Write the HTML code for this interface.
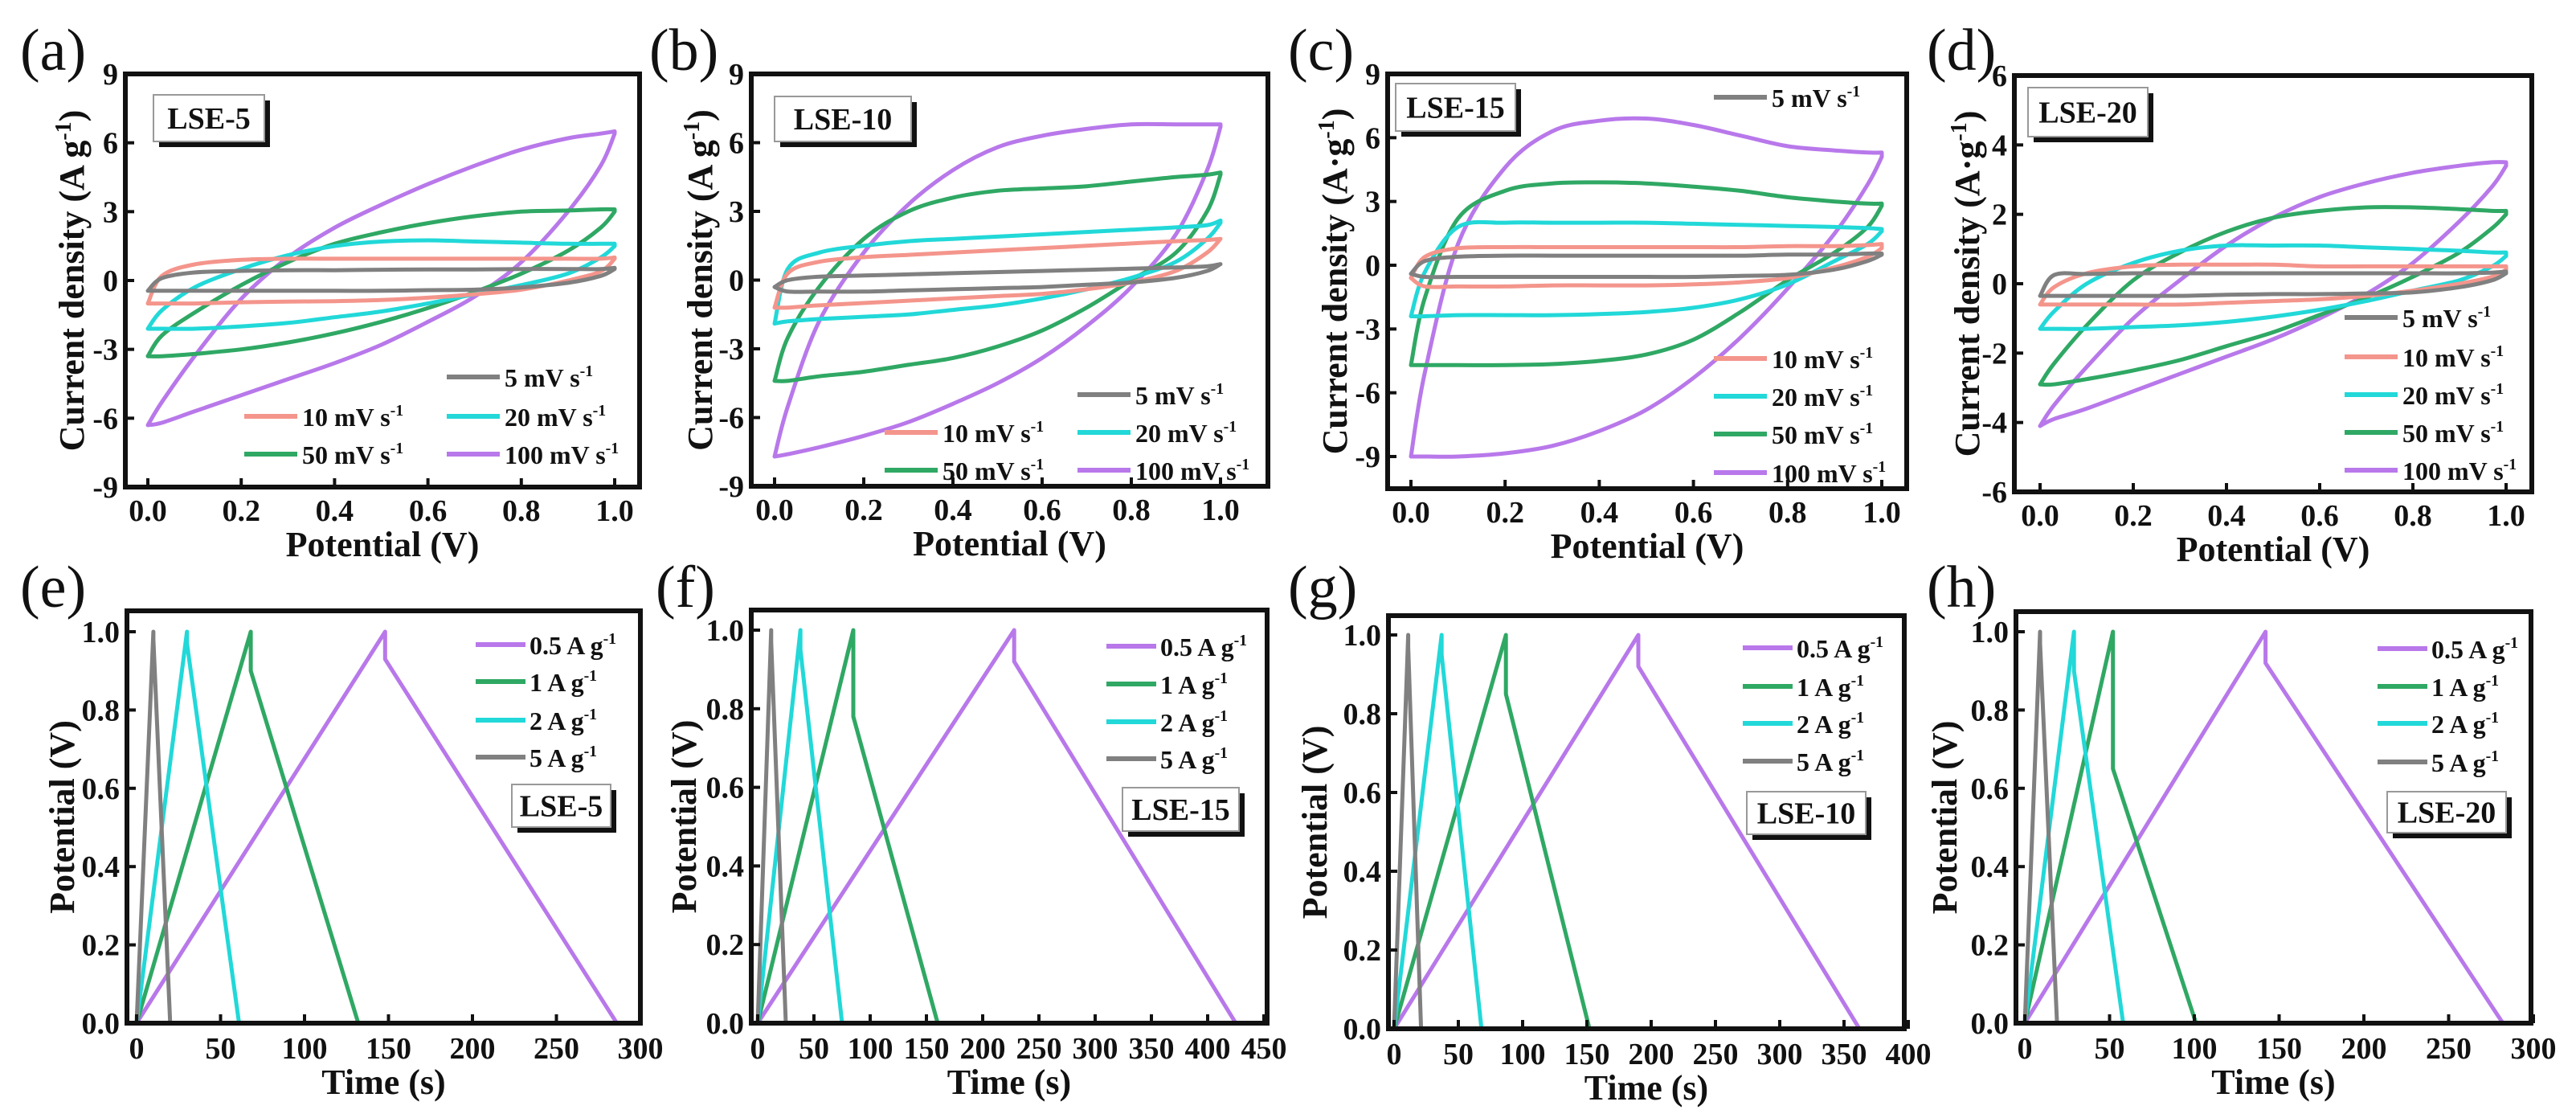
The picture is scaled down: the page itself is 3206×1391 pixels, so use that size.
<!DOCTYPE html>
<html><head><meta charset="utf-8"><style>
html,body{margin:0;padding:0;background:#fff}
svg{display:block;font-family:"Liberation Serif",serif}
</style></head><body>
<svg id="fig" width="3206" height="1391" viewBox="0 0 3206 1391" xmlns="http://www.w3.org/2000/svg">
<rect x="0" y="0" width="3206" height="1391" fill="#fff"/>
<g id="layer"></g>
</svg>
<script>
// ---------- DATA ----------
const potentials=[0,0.03,0.1,0.2,0.3,0.4,0.5,0.6,0.7,0.8,0.9,0.97,1.0];
const scanRates=['5','10','20','50','100'];
const currents=['0.5','1','2','5'];
const cvTicks9=[-9,-6,-3,0,3,6,9];
const cvTicks6=[-6,-4,-2,0,2,4,6];
const potTicks=[0,0.2,0.4,0.6,0.8,1.0];
const vTicks=[0,0.2,0.4,0.6,0.8,1.0];
const timeTicks300=[0,50,100,150,200,250,300];
const timeTicks450=[0,50,100,150,200,250,300,350,400,450];
const timeTicks400=[0,50,100,150,200,250,300,350,400];

const cvA_fwd=[
[-0.45,0.1,0.35,0.42,0.45,0.45,0.47,0.48,0.48,0.5,0.5,0.5,0.55],
[-1.0,0.2,0.7,0.9,0.95,0.95,0.95,0.95,0.95,0.95,0.95,0.95,1.0],
[-2.1,-1.3,-0.3,0.5,1.1,1.5,1.7,1.75,1.7,1.65,1.6,1.6,1.6],
[-3.3,-2.4,-1.4,-0.2,0.8,1.6,2.1,2.5,2.8,3.0,3.05,3.1,3.1],
[-6.3,-5.3,-3.3,-0.8,1.0,2.3,3.3,4.2,5.0,5.7,6.2,6.4,6.5]];
const cvA_rev=[
[-0.45,-0.45,-0.45,-0.45,-0.45,-0.45,-0.45,-0.42,-0.4,-0.3,-0.1,0.2,0.5],
[-1.0,-1.0,-1.0,-0.95,-0.92,-0.9,-0.85,-0.75,-0.6,-0.4,0,0.4,0.95],
[-2.1,-2.1,-2.1,-2.0,-1.85,-1.6,-1.35,-1.0,-0.6,-0.2,0.3,1.0,1.5],
[-3.3,-3.3,-3.2,-3.0,-2.7,-2.3,-1.8,-1.2,-0.5,0.3,1.3,2.3,3.0],
[-6.3,-6.2,-5.7,-5.0,-4.3,-3.6,-2.8,-1.8,-0.7,0.8,3.0,5.0,6.4]];

const cvB_fwd=[
[-0.3,0.0,0.15,0.2,0.25,0.3,0.35,0.4,0.45,0.5,0.55,0.6,0.7],
[-1.2,0.3,0.8,1.0,1.1,1.2,1.3,1.4,1.5,1.6,1.7,1.75,1.8],
[-1.9,0.5,1.2,1.5,1.7,1.8,1.9,2.0,2.1,2.2,2.3,2.4,2.6],
[-4.4,-2.5,-0.3,1.8,3.0,3.6,3.9,4.0,4.1,4.3,4.5,4.6,4.7],
[-7.7,-5.5,-1.8,1.2,3.3,4.8,5.8,6.3,6.6,6.8,6.8,6.8,6.8]];
const cvB_rev=[
[-0.3,-0.5,-0.5,-0.5,-0.45,-0.4,-0.35,-0.3,-0.2,-0.1,0.1,0.4,0.7],
[-1.2,-1.2,-1.1,-1.0,-0.9,-0.8,-0.7,-0.6,-0.4,-0.1,0.4,1.2,1.8],
[-1.9,-1.8,-1.7,-1.6,-1.5,-1.3,-1.1,-0.8,-0.4,0.1,0.8,1.8,2.5],
[-4.4,-4.4,-4.2,-4.0,-3.7,-3.4,-2.9,-2.2,-1.2,0.0,1.2,3.0,4.6],
[-7.7,-7.6,-7.3,-6.8,-6.2,-5.4,-4.5,-3.4,-2.0,-0.3,2.0,4.8,6.7]];

const cvC_fwd=[
[-0.4,0.2,0.4,0.45,0.45,0.45,0.45,0.45,0.45,0.5,0.5,0.55,0.55],
[-0.6,0.4,0.8,0.85,0.85,0.85,0.85,0.85,0.85,0.9,0.9,0.95,1.0],
[-2.4,-0.3,1.8,2.0,2.0,2.0,2.0,1.95,1.9,1.85,1.8,1.75,1.7],
[-4.7,-1.5,2.2,3.5,3.85,3.9,3.85,3.7,3.5,3.2,3.0,2.9,2.9],
[-9.0,-5.0,1.0,4.6,6.3,6.8,6.9,6.6,6.1,5.6,5.4,5.3,5.3]];
const cvC_rev=[
[-0.4,-0.55,-0.55,-0.55,-0.55,-0.55,-0.55,-0.55,-0.5,-0.45,-0.2,0.2,0.5],
[-0.6,-1.0,-1.0,-1.0,-0.95,-0.95,-0.95,-0.9,-0.8,-0.6,-0.1,0.4,0.8],
[-2.4,-2.4,-2.35,-2.35,-2.35,-2.3,-2.2,-2.0,-1.6,-0.9,0.2,1.0,1.6],
[-4.7,-4.7,-4.7,-4.7,-4.65,-4.5,-4.2,-3.5,-2.2,-0.7,0.6,1.8,2.8],
[-9.0,-9.0,-9.0,-8.85,-8.5,-7.8,-6.8,-5.3,-3.4,-1.1,1.5,3.8,5.1]];

const cvD_fwd=[
[-0.35,0.25,0.28,0.3,0.3,0.3,0.3,0.3,0.3,0.3,0.3,0.32,0.35],
[-0.6,-0.1,0.3,0.5,0.55,0.55,0.55,0.5,0.5,0.5,0.5,0.5,0.5],
[-1.3,-0.8,0.0,0.6,0.95,1.1,1.1,1.1,1.05,1.0,0.95,0.9,0.9],
[-2.9,-2.3,-1.2,0.1,0.9,1.5,1.9,2.1,2.2,2.2,2.15,2.1,2.1],
[-4.1,-3.5,-2.4,-1.0,0.1,1.1,1.9,2.5,2.9,3.2,3.4,3.5,3.5]];
const cvD_rev=[
[-0.35,-0.35,-0.35,-0.35,-0.35,-0.32,-0.3,-0.3,-0.28,-0.25,-0.1,0.1,0.3],
[-0.6,-0.6,-0.6,-0.6,-0.6,-0.55,-0.5,-0.45,-0.35,-0.2,0.0,0.2,0.4],
[-1.3,-1.3,-1.3,-1.25,-1.2,-1.1,-0.95,-0.75,-0.5,-0.2,0.1,0.5,0.8],
[-2.9,-2.9,-2.75,-2.5,-2.2,-1.8,-1.4,-0.9,-0.4,0.2,0.9,1.6,2.0],
[-4.1,-3.9,-3.6,-3.1,-2.6,-2.1,-1.6,-1.0,-0.3,0.6,1.8,2.8,3.4]];

// GCD: charge peak time (s), voltage after IR drop (V), discharge end time (s)
const gcdE_peak=[148,68,30,10], gcdE_drop=[0.93,0.9,0.97,0.98], gcdE_end=[286,132,61,20];
const gcdF_peak=[228,85,38,12], gcdF_drop=[0.92,0.78,0.95,0.97], gcdF_end=[425,160,75,25];
const gcdG_peak=[190,87,37,11], gcdG_drop=[0.92,0.85,0.95,0.97], gcdG_end=[362,152,68,21];
const gcdH_peak=[142,52,29,9],  gcdH_drop=[0.92,0.65,0.9,0.97],  gcdH_end=[282,101,58,19];

// ---------- LAYOUT ----------
const cvColors=['#808080','#f4958c','#22d8d8','#2fa864','#b878ea'];
const gcdColors=['#b878ea','#2fa864','#22d8d8','#808080'];
const NS='http://www.w3.org/2000/svg';
const layer=document.getElementById('layer');
function mk(tag,attrs,parent){const e=document.createElementNS(NS,tag);for(const k in attrs)e.setAttribute(k,attrs[k]);(parent||layer).appendChild(e);return e;}
function lin(v0,p0,v1,p1){return v=>p0+(v-v0)*(p1-p0)/(v1-v0);}
function smooth(pts){let d='';for(let i=0;i<pts.length-1;i++){const p0=pts[Math.max(0,i-1)],p1=pts[i],p2=pts[i+1],p3=pts[Math.min(pts.length-1,i+2)];const c1=[p1[0]+(p2[0]-p0[0])/6,p1[1]+(p2[1]-p0[1])/6],c2=[p2[0]-(p3[0]-p1[0])/6,p2[1]-(p3[1]-p1[1])/6];d+=' C'+c1[0].toFixed(1)+','+c1[1].toFixed(1)+' '+c2[0].toFixed(1)+','+c2[1].toFixed(1)+' '+p2[0].toFixed(1)+','+p2[1].toFixed(1);}return d;}

const TICK_FS=38, LEG_FS=32, LW=5;

const cvPanels=[
 {id:'a',L:156,R:796,T:92,B:606,x:lin(0,184,1,765),y:lin(9,92,-9,606),yt:cvTicks9,fwd:cvA_fwd,rev:cvA_rev,lab:[25,62],ytx:89,unit:'A g',sample:'LSE-5',box:[191,118,138,58],
  leg:[[556,469],[304,518],[556,518],[304,565],[556,565]]},
 {id:'b',L:935,R:1578,T:92,B:605,x:lin(0,964,1,1519),y:lin(9,92,-9,605),yt:cvTicks9,fwd:cvB_fwd,rev:cvB_rev,lab:[808,62],ytx:871,unit:'A g',sample:'LSE-10',box:[964,120,170,56],
  leg:[[1341,491],[1101,538],[1341,538],[1101,585],[1341,585]]},
 {id:'c',L:1727,R:2373,T:92,B:608,x:lin(0,1756,1,2342),y:lin(9,92,-9,568),yt:cvTicks9,fwd:cvC_fwd,rev:cvC_rev,lab:[1603,62],ytx:1661,unit:'A·g',sample:'LSE-15',box:[1737,104,149,59],
  leg:[[2133,121],[2133,446],[2133,493],[2133,540],[2133,588]]},
 {id:'d',L:2507,R:3151,T:94,B:612,x:lin(0,2539,1,3119),y:lin(6,94,-6,612),yt:cvTicks6,fwd:cvD_fwd,rev:cvD_rev,lab:[2398,62],ytx:2448,unit:'A·g',sample:'LSE-20',box:[2524,109,149,61],
  leg:[[2918,395],[2918,444],[2918,491],[2918,538],[2918,585]]}
];
const gcdPanels=[
 {id:'e',L:158,R:797,T:760,B:1273,x:lin(0,170,300,797),y:lin(1,786,0,1273),xt:timeTicks300,pk:gcdE_peak,dr:gcdE_drop,en:gcdE_end,lab:[25,730],ytx:77,sample:'LSE-5',box:[637,976,123,53],leg:[592,[802,848,896,942]]},
 {id:'f',L:935,R:1577,T:759,B:1273,x:lin(0,943,450,1573),y:lin(1,784,0,1273),xt:timeTicks450,pk:gcdF_peak,dr:gcdF_drop,en:gcdF_end,lab:[816,730],ytx:851,sample:'LSE-15',box:[1397,980,145,54],leg:[1377,[804,851,898,944]]},
 {id:'g',L:1728,R:2370,T:766,B:1280,x:lin(0,1735,400,2375),y:lin(1,790,0,1280),xt:timeTicks400,pk:gcdG_peak,dr:gcdG_drop,en:gcdG_end,lab:[1603,730],ytx:1636,sample:'LSE-10',box:[2174,985,148,53],leg:[2169,[806,854,900,947]]},
 {id:'h',L:2509,R:3150,T:761,B:1273,x:lin(0,2520,300,3153),y:lin(1,786,0,1273),xt:timeTicks300,pk:gcdH_peak,dr:gcdH_drop,en:gcdH_end,lab:[2398,730],ytx:2420,sample:'LSE-20',box:[2971,985,148,51],leg:[2959,[807,854,900,948]]}
];

function frame(p,g){
  const cp=mk('clipPath',{id:'clip-'+p.id},g);
  mk('rect',{x:p.L,y:p.T,width:p.R-p.L,height:p.B-p.T},cp);
}
function border(p,g){
  const r=mk('rect',{x:p.L,y:p.T,width:p.R-p.L,height:p.B-p.T,fill:'none',stroke:'#111','stroke-width':6},g);
  
  
}
function panelLabel(p,g){
  const t=mk('text',{x:p.lab[0],y:p.lab[1]+25,'font-size':74,fill:'#111'},g);
  t.textContent='('+p.id+')';
  
  
}
function sampleBox(p,g){
  const [x,y,w,h]=p.box;
  const s=mk('rect',{x:x+7,y:y+7,width:w,height:h,fill:'#111'},g);
  
  
  const r=mk('rect',{x:x,y:y,width:w,height:h,fill:'#fff',stroke:'#999','stroke-width':2},g);
  
  
  const t=mk('text',{x:x+w/2,y:y+h/2+13,'font-size':38,'font-weight':'bold','text-anchor':'middle',fill:'#111'},g);
  t.textContent=p.sample;
  
  
}
function supText(g,x,y,main,sup,size,name){
  const t=mk('text',{x:x,y:y,'font-size':size,'font-weight':'bold',fill:'#111'},g);
  
  
  const a=mk('tspan',{},t);a.textContent=main;
  const b=mk('tspan',{dy:-size*0.4,'font-size':size*0.62},t);b.textContent=sup;
  return t;
}

cvPanels.forEach(p=>{
  const g=mk('g',{});
  
  
  frame(p,g);
  const cg=mk('g',{'clip-path':'url(#clip-'+p.id+')'},g);
  
  
  for(let s=scanRates.length-1;s>=0;s--){
    const f=potentials.map((v,i)=>[p.x(v),p.y(p.fwd[s][i])]);
    const r=potentials.map((v,i)=>[p.x(v),p.y(p.rev[s][i])]).reverse();
    const d='M'+f[0][0].toFixed(1)+','+f[0][1].toFixed(1)+smooth(f)+' L'+r[0][0].toFixed(1)+','+r[0][1].toFixed(1)+smooth(r)+' Z';
    const path=mk('path',{d:d,fill:'none',stroke:cvColors[s],'stroke-width':LW,'stroke-linejoin':'round'},cg);
    
    
  }
  border(p,g);
  p.yt.forEach(v=>{
    const yy=p.y(v);
    const tk=mk('line',{x1:p.L,x2:p.L+11,y1:yy,y2:yy,stroke:'#111','stroke-width':4},g);
    
    
    const t=mk('text',{x:p.L-9,y:yy+13,'font-size':TICK_FS,'font-weight':'bold','text-anchor':'end',fill:'#111'},g);
    t.textContent=String(v);
    
    
  });
  potTicks.forEach(v=>{
    const xx=p.x(v);
    const tk=mk('line',{x1:xx,x2:xx,y1:p.B,y2:p.B-11,stroke:'#111','stroke-width':4},g);
    
    
    const t=mk('text',{x:xx,y:p.B+42,'font-size':TICK_FS,'font-weight':'bold','text-anchor':'middle',fill:'#111'},g);
    t.textContent=v.toFixed(1);
    
    
  });
  const xt=mk('text',{x:(p.L+p.R)/2,y:p.B+86,'font-size':44,'font-weight':'bold','text-anchor':'middle',fill:'#111'},g);
  xt.textContent='Potential (V)';
  
  
  const yc=(p.T+p.B)/2;
  const yt=mk('text',{x:p.ytx,y:yc,'font-size':44,'font-weight':'bold','text-anchor':'middle',fill:'#111',transform:'rotate(-90 '+p.ytx+' '+yc+') translate(0 15)'},g);
  
  
  const y1=mk('tspan',{},yt);y1.textContent='Current density ('+p.unit;
  const y2=mk('tspan',{dy:-16,'font-size':28},yt);y2.textContent='-1';
  const y3=mk('tspan',{dy:16},yt);y3.textContent=')';
  panelLabel(p,g);
  sampleBox(p,g);
  p.leg.forEach((pos,s)=>{
    const ln=mk('line',{x1:pos[0],x2:pos[0]+66,y1:pos[1],y2:pos[1],stroke:cvColors[s],'stroke-width':6},g);
    
    
    supText(g,pos[0]+72,pos[1]+12,scanRates[s]+' mV s','-1',LEG_FS,'legend-label-'+scanRates[s]+'mv');
  });
});

gcdPanels.forEach(p=>{
  const g=mk('g',{});
  
  
  frame(p,g);
  const cg=mk('g',{'clip-path':'url(#clip-'+p.id+')'},g);
  
  
  for(let s=0;s<currents.length;s++){
    const pts=[[0,0],[p.pk[s],1],[p.pk[s],p.dr[s]],[p.en[s],0]].map(q=>p.x(q[0]).toFixed(1)+','+p.y(q[1]).toFixed(1));
    const pl=mk('polyline',{points:pts.join(' '),fill:'none',stroke:gcdColors[s],'stroke-width':LW,'stroke-linejoin':'round'},cg);
    
    
  }
  border(p,g);
  vTicks.forEach(v=>{
    const yy=p.y(v);
    const tk=mk('line',{x1:p.L,x2:p.L+11,y1:yy,y2:yy,stroke:'#111','stroke-width':4},g);
    
    
    const t=mk('text',{x:p.L-9,y:yy+13,'font-size':TICK_FS,'font-weight':'bold','text-anchor':'end',fill:'#111'},g);
    t.textContent=v.toFixed(1);
    
    
  });
  p.xt.forEach(v=>{
    const xx=p.x(v);
    const tk=mk('line',{x1:xx,x2:xx,y1:p.B,y2:p.B-11,stroke:'#111','stroke-width':4},g);
    
    
    const t=mk('text',{x:xx,y:p.B+44,'font-size':TICK_FS,'font-weight':'bold','text-anchor':'middle',fill:'#111'},g);
    t.textContent=String(v);
    
    
  });
  const xt=mk('text',{x:(p.L+p.R)/2,y:p.B+88,'font-size':44,'font-weight':'bold','text-anchor':'middle',fill:'#111'},g);
  xt.textContent='Time (s)';
  
  
  const yc=(p.T+p.B)/2;
  const yt=mk('text',{x:p.ytx,y:yc,'font-size':44,'font-weight':'bold','text-anchor':'middle',fill:'#111',transform:'rotate(-90 '+p.ytx+' '+yc+') translate(0 15)'},g);
  yt.textContent='Potential (V)';
  
  
  panelLabel(p,g);
  sampleBox(p,g);
  p.leg[1].forEach((yy,s)=>{
    const ln=mk('line',{x1:p.leg[0],x2:p.leg[0]+62,y1:yy,y2:yy,stroke:gcdColors[s],'stroke-width':6},g);
    
    
    supText(g,p.leg[0]+67,yy+12,currents[s]+' A g','-1',LEG_FS,'legend-label-'+currents[s]+'a');
  });
});
</script>
</body></html>
